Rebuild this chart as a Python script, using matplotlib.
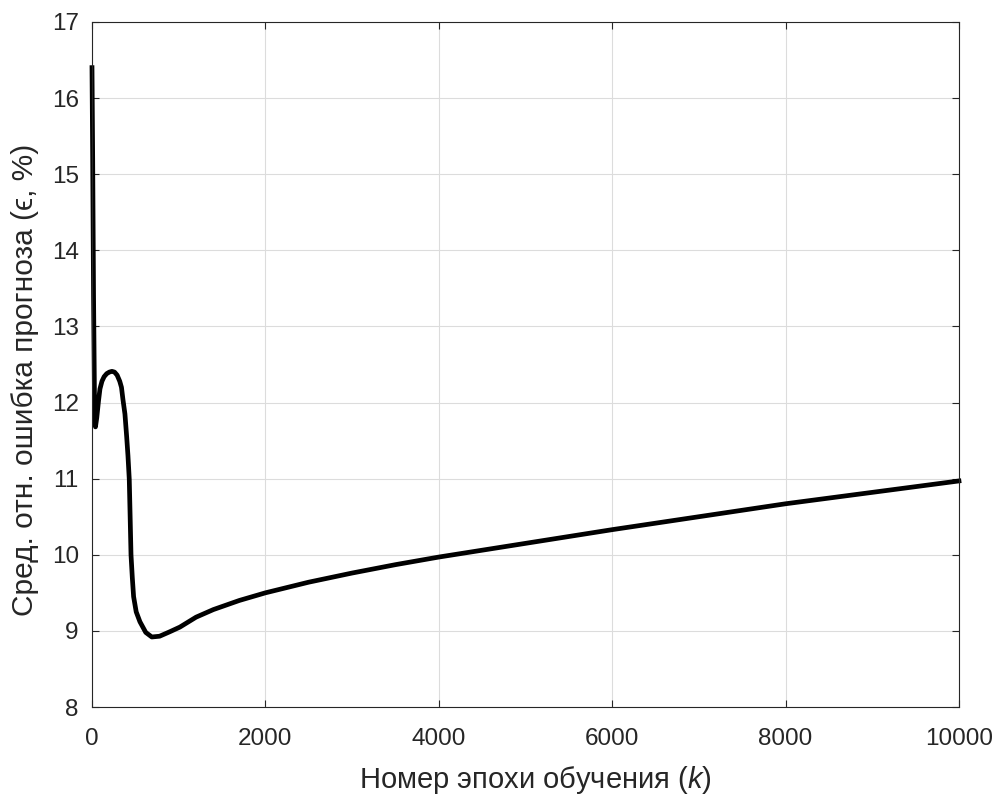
import matplotlib
matplotlib.use("Agg")
import matplotlib.pyplot as plt

plt.rcParams['font.family'] = ['Liberation Sans', 'DejaVu Sans']
plt.rcParams['mathtext.fontset'] = 'custom'
plt.rcParams['mathtext.rm'] = 'Liberation Sans'
plt.rcParams['mathtext.it'] = 'Liberation Sans:italic'

# Номер эпохи и ошибка
epochs = [0, 8, 18, 30, 40, 55, 75, 92, 115, 140, 170, 200, 230, 260, 290, 320,
          340, 357, 380, 400, 415, 430, 440, 450, 465, 480, 510, 553, 620, 690,
          780, 900, 1014, 1200, 1400, 1700, 2000, 2500, 3000, 3318, 3500, 4000,
          5000, 6000, 7000, 8000, 9000, 10000]
error = [16.4, 15.2, 13.4, 11.9, 11.68, 11.8, 12.02, 12.18, 12.28, 12.34,
         12.38, 12.4, 12.41, 12.4, 12.36, 12.28, 12.2, 12.04, 11.85, 11.55,
         11.3, 10.99, 10.5, 10.0, 9.7, 9.45, 9.25, 9.12, 8.98, 8.92, 8.93,
         8.99, 9.05, 9.18, 9.28, 9.4, 9.5, 9.64, 9.76, 9.83, 9.87, 9.97,
         10.15, 10.33, 10.5, 10.67, 10.82, 10.97]

xticks = [0, 2000, 4000, 6000, 8000, 10000]
yticks = [8, 9, 10, 11, 12, 13, 14, 15, 16, 17]

fig = plt.figure(figsize=(10.01, 7.96), dpi=100)
ax = fig.add_axes([0.0919, 0.1118, 0.8661, 0.8606])

ax.plot(epochs, error, color='black', linewidth=3.4, solid_joinstyle='round',
        clip_on=False)

ax.set_xlim(0, 10000)
ax.set_ylim(8, 17)
ax.set_xticks(xticks)
ax.set_yticks(yticks)
ax.grid(True, color='#dcdcdc', linewidth=0.8)
ax.set_axisbelow(True)

dark = '#262626'
for s in ax.spines.values():
    s.set_color(dark)
    s.set_linewidth(0.8)
ax.tick_params(direction='in', top=True, right=True, length=5, width=0.8,
               colors=dark, labelsize=17.5)
ax.tick_params(axis='y', pad=9.5)
ax.tick_params(axis='x', pad=15)

ax.set_xlabel('Номер эпохи обучения ($k$)', fontsize=21, color=dark, labelpad=10)
ax.xaxis.label.set_x(0.5115)
ax.set_ylabel('Сред. отн. ошибка прогноза (ϵ, %)', fontsize=21.5, color=dark)
ax.yaxis.set_label_coords(-0.061, 0.477)

fig.savefig('out.png', dpi=100)
